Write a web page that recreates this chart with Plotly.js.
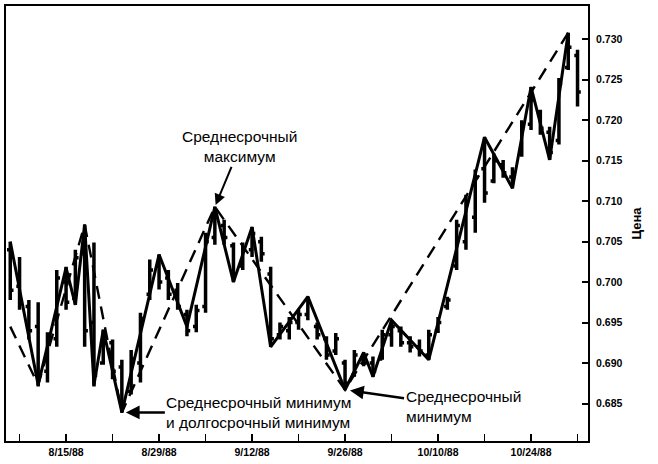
<!DOCTYPE html>
<html>
<head>
<meta charset="utf-8">
<script src="https://cdn.plot.ly/plotly-3.0.1.min.js"></script>
<style>html,body{margin:0;padding:0;background:#fff;}#chart{width:658px;height:464px;}</style>
</head>
<body>
<div id="chart"></div>
<script>
// Trading days (Aug 5 – Oct 31, 1988)
const dates = [
 '1988-08-05','1988-08-08','1988-08-09','1988-08-10','1988-08-11','1988-08-12',
 '1988-08-15','1988-08-16','1988-08-17','1988-08-18','1988-08-19',
 '1988-08-22','1988-08-23','1988-08-24','1988-08-25','1988-08-26',
 '1988-08-29','1988-08-30','1988-08-31','1988-09-01','1988-09-02',
 '1988-09-05','1988-09-06','1988-09-07','1988-09-08','1988-09-09',
 '1988-09-12','1988-09-13','1988-09-14','1988-09-15','1988-09-16',
 '1988-09-19','1988-09-20','1988-09-21','1988-09-22','1988-09-23',
 '1988-09-26','1988-09-27','1988-09-28','1988-09-29','1988-09-30',
 '1988-10-03','1988-10-04','1988-10-05','1988-10-06','1988-10-07',
 '1988-10-10','1988-10-11','1988-10-12','1988-10-13','1988-10-14',
 '1988-10-17','1988-10-18','1988-10-19','1988-10-20','1988-10-21',
 '1988-10-24','1988-10-25','1988-10-26','1988-10-27','1988-10-28',
 '1988-10-31'
];
const highs = [
 0.7050,0.7031,0.6978,0.6975,0.6938,0.7015,
 0.7019,0.7040,0.7071,0.7049,0.6941,
 0.6929,0.6904,0.6916,0.6962,0.7028,
 0.7034,0.7015,0.6999,0.6966,0.6972,
 0.7061,0.7093,0.7077,0.7049,0.7049,
 0.7068,0.7056,0.7019,0.6950,0.6957,
 0.6966,0.6982,0.6950,0.6933,0.6937,
 0.6904,0.6916,0.6913,0.6908,0.6941,
 0.6953,0.6945,0.6933,0.6929,0.6941,
 0.6957,0.6982,0.7077,0.7108,0.7139,
 0.7179,0.7159,0.7151,0.7142,0.7200,
 0.7241,0.7213,0.7192,0.7252,0.7308,
 0.7287
];
const lows = [
 0.6978,0.6966,0.6929,0.6871,0.6876,0.6920,
 0.6966,0.6972,0.6920,0.6871,0.6898,
 0.6880,0.6839,0.6861,0.6876,0.6978,
 0.6991,0.6978,0.6966,0.6933,0.6938,
 0.6962,0.7046,0.7046,0.7000,0.7015,
 0.7031,0.7025,0.6920,0.6929,0.6929,
 0.6941,0.6953,0.6929,0.6904,0.6910,
 0.6867,0.6883,0.6896,0.6883,0.6904,
 0.6920,0.6920,0.6913,0.6908,0.6904,
 0.6937,0.6966,0.7015,0.7040,0.7061,
 0.7098,0.7122,0.7129,0.7116,0.7155,
 0.7188,0.7182,0.7151,0.7170,0.7262,
 0.7217
];
const opens = [
 0.7040,0.6995,0.6970,0.6945,0.6890,0.6930,
 0.7000,0.6980,0.7035,0.6950,0.6900,
 0.6925,0.6895,0.6865,0.6900,0.6985,
 0.7020,0.7005,0.6990,0.6960,0.6945,
 0.6970,0.7055,0.7070,0.7045,0.7020,
 0.7040,0.7050,0.7010,0.6935,0.6940,
 0.6950,0.6960,0.6945,0.6930,0.6915,
 0.6900,0.6885,0.6905,0.6900,0.6905,
 0.6935,0.6940,0.6925,0.6920,0.6910,
 0.6940,0.6970,0.7020,0.7050,0.7080,
 0.7140,0.7125,0.7145,0.7130,0.7160,
 0.7195,0.7210,0.7185,0.7175,0.7265,
 0.7280
];
const closes = [
 0.6990,0.6975,0.6940,0.6885,0.6930,0.7005,
 0.6975,0.7030,0.6940,0.6885,0.6935,
 0.6890,0.6850,0.6905,0.6955,0.7015,
 0.7000,0.6985,0.6970,0.6940,0.6965,
 0.7050,0.7080,0.7055,0.7010,0.7040,
 0.7060,0.7035,0.6930,0.6945,0.6950,
 0.6960,0.6975,0.6935,0.6910,0.6930,
 0.6875,0.6910,0.6900,0.6890,0.6935,
 0.6945,0.6925,0.6920,0.6915,0.6935,
 0.6950,0.6978,0.7070,0.7100,0.7130,
 0.7110,0.7150,0.7135,0.7135,0.7195,
 0.7225,0.7190,0.7160,0.7245,0.7290,
 0.7235
];
// Minor swing line (solid)
const minorSwingDates = ['1988-08-05','1988-08-10','1988-08-15','1988-08-16','1988-08-17','1988-08-18','1988-08-19','1988-08-23','1988-08-29','1988-09-01','1988-09-06','1988-09-08','1988-09-12','1988-09-14','1988-09-20','1988-09-26','1988-09-28','1988-09-29','1988-10-03','1988-10-07','1988-10-17','1988-10-20','1988-10-24','1988-10-26','1988-10-28'];
const minorSwingValues = [0.7050,0.6873,0.7018,0.6972,0.7071,0.6873,0.6941,0.6839,0.7034,0.6945,0.7093,0.7000,0.7068,0.6920,0.6982,0.6867,0.6913,0.6883,0.6953,0.6904,0.7179,0.7116,0.7241,0.7151,0.7308];
// Intermediate swing line (dashed)
const interSwingDates = ['1988-08-05','1988-08-10','1988-08-17','1988-08-23','1988-09-06','1988-09-26','1988-10-28'];
const interSwingValues = [0.6945,0.6873,0.7071,0.6839,0.7093,0.6867,0.7308];
// Axis ticks
const tickDates = ['1988-08-08','1988-08-15','1988-08-22','1988-08-29','1988-09-05','1988-09-12','1988-09-19','1988-09-26','1988-10-03','1988-10-10','1988-10-17','1988-10-24','1988-10-31'];
const tickLabels = ['','8/15/88','','8/29/88','','9/12/88','','9/26/88','','10/10/88','','10/24/88',''];
const yTitle = 'Цена';
const annHigh = {date:'1988-09-06', value:0.7093, text:'Среднесрочный<br>максимум'};
const annLow1 = {date:'1988-08-23', value:0.6839, text:'Среднесрочный минимум<br>и долгосрочный минимум'};
const annLow2 = {date:'1988-09-26', value:0.6867, text:'Среднесрочный<br>минимум'};

const bars = {
  type:'ohlc', x:dates, open:opens, high:highs, low:lows, close:closes,
  increasing:{line:{color:'#000', width:3.5}},
  decreasing:{line:{color:'#000', width:3.5}},
  tickwidth:0.35, hoverinfo:'skip'
};
const solid = {
  type:'scatter', mode:'lines', x:minorSwingDates, y:minorSwingValues,
  line:{color:'#000', width:3}, hoverinfo:'skip'
};
const dashed = {
  type:'scatter', mode:'lines', x:interSwingDates, y:interSwingValues,
  line:{color:'#000', width:2.4, dash:'13px,8px'}, hoverinfo:'skip'
};

const annFont = {family:'Liberation Sans, Arial, sans-serif', size:15.5, color:'#000'};
const layout = {
  width:658, height:464,
  margin:{l:6, r:70, t:6, b:23, pad:0},
  paper_bgcolor:'#fff', plot_bgcolor:'#fff',
  showlegend:false, hovermode:false,
  font:{family:'Liberation Sans, Arial, sans-serif', color:'#000'},
  xaxis:{
    type:'date',
    range:['1988-08-04 13:00','1988-11-01 03:00'],
    rangebreaks:[{bounds:['sat','mon']}],
    rangeslider:{visible:false},
    tickmode:'array', tickvals:tickDates, ticktext:tickLabels,
    ticks:'inside', ticklen:7, tickwidth:1.5, tickcolor:'#000',
    showline:true, linewidth:2, linecolor:'#000', mirror:true,
    showgrid:false, zeroline:false,
    tickfont:{size:10.5, family:'Liberation Sans, Arial, sans-serif', weight:'bold'}
  },
  yaxis:{
    side:'right',
    range:[0.68037, 0.73411],
    tickmode:'linear', tick0:0.685, dtick:0.005, tickformat:'.3f',
    ticks:'inside', ticklen:6, tickwidth:2, tickcolor:'#000',
    showline:true, linewidth:2, linecolor:'#000', mirror:true,
    showgrid:false, zeroline:false,
    ticklabelstandoff:4,
    tickfont:{size:10.5, family:'Liberation Sans, Arial, sans-serif', weight:'bold'},
    title:{text:yTitle, standoff:10, font:{size:13, family:'Liberation Sans, Arial, sans-serif', weight:'bold'}}
  },
  annotations:[
    {x:annHigh.date, y:annHigh.value, xref:'x', yref:'y', text:annHigh.text,
     showarrow:true, ax:25, ay:-60, arrowhead:2, arrowsize:1.1, arrowwidth:2, arrowcolor:'#000',
     standoff:2, font:annFont, align:'center'},
    {x:annLow1.date, y:annLow1.value, xref:'x', yref:'y', text:annLow1.text,
     showarrow:true, ax:137, ay:0, arrowhead:2, arrowsize:1.1, arrowwidth:2.5, arrowcolor:'#000',
     standoff:4, font:annFont, align:'left'},
    {x:annLow2.date, y:annLow2.value, xref:'x', yref:'y', text:annLow2.text,
     showarrow:true, ax:118, ay:17, arrowhead:2, arrowsize:1.1, arrowwidth:2.5, arrowcolor:'#000',
     standoff:5, font:annFont, align:'left'}
  ]
};
Plotly.newPlot('chart', [bars, solid, dashed], layout, {staticPlot:true, displayModeBar:false});
</script>
</body>
</html>
